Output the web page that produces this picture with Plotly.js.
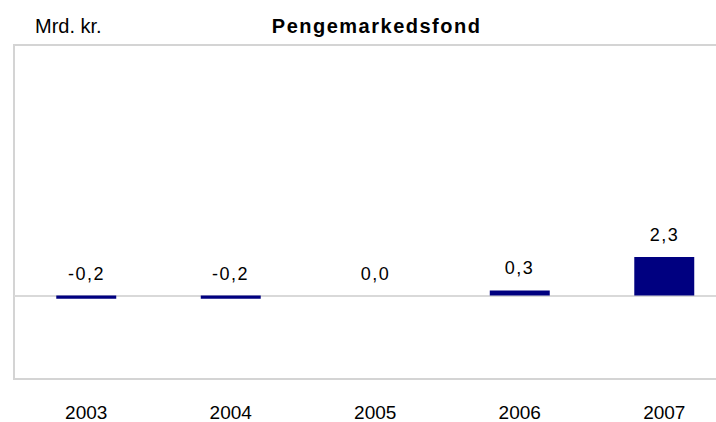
<!DOCTYPE html>
<html>
<head>
<meta charset="utf-8">
<script src="https://cdn.plot.ly/plotly-3.0.1.min.js"></script>
<style>
html,body{margin:0;padding:0;background:#fff;}
#chart{width:716px;height:422px;}
#chart .gtitle{letter-spacing:1.5px;}
#chart .annotation text.value{letter-spacing:1.5px;}
</style>
</head>
<body>
<div id="chart"></div>
<script>
const years = ['2003', '2004', '2005', '2006', '2007'];
const values = [-0.2, -0.2, 0.0, 0.3, 2.3];
const valueLabels = ['-0,2', '-0,2', '0,0', '0,3', '2,3'];
const chartTitle = 'Pengemarkedsfond';
const unitLabel = 'Mrd. kr.';

const font = 'Liberation Sans, Arial, sans-serif';

const trace = {
  type: 'bar',
  x: years,
  y: values,
  width: 0.415,
  marker: {color: '#000080', line: {width: 0}},
  hoverinfo: 'skip'
};

const annotations = years.map((yr, i) => ({
  x: i, y: Math.max(values[i], 0), xref: 'x', yref: 'y',
  text: valueLabels[i], showarrow: false, yanchor: 'bottom', yshift: 10,
  font: {family: font, size: 18, color: '#000'}
}));
annotations.push({
  x: 0.027, y: 1, xref: 'paper', yref: 'paper', xanchor: 'left', yanchor: 'bottom',
  yshift: 6, text: unitLabel, showarrow: false,
  font: {family: font, size: 20, color: '#000'}
});

const layout = {
  width: 716, height: 422,
  margin: {l: 14, r: 0, t: 45, b: 43, pad: 0},
  paper_bgcolor: '#fff', plot_bgcolor: '#fff',
  title: {text: '<b>' + chartTitle + '</b>', x: 0.526, xanchor: 'center', y: 0.938, yanchor: 'middle',
          font: {family: font, size: 20, color: '#000'}},
  showlegend: false,
  xaxis: {type: 'category', range: [-0.5, 4.358], showline: false, showgrid: false, zeroline: false,
          ticks: '', tickfont: {family: font, size: 19, color: '#000'}, ticklabelstandoff: 20, fixedrange: true},
  yaxis: {range: [-5, 15], showticklabels: false, showgrid: false, showline: false,
          zeroline: true, zerolinecolor: '#d9d9d9', zerolinewidth: 2, ticks: '', fixedrange: true},
  annotations: annotations,
  shapes: [{type: 'rect', xref: 'paper', yref: 'paper', x0: 0, x1: 1.2, y0: 0, y1: 1,
            line: {color: '#d4d4d4', width: 2}, layer: 'below'}]
};

Plotly.newPlot('chart', [trace], layout, {staticPlot: true, displayModeBar: false}).then(() => {
  const anns = document.querySelectorAll('#chart .annotation');
  anns.forEach((a, i) => {
    if (i < valueLabels.length) {
      const t = a.querySelector('text');
      if (t) t.setAttribute('class', (t.getAttribute('class') || '') + ' value');
    }
  });
});
</script>
</body>
</html>
